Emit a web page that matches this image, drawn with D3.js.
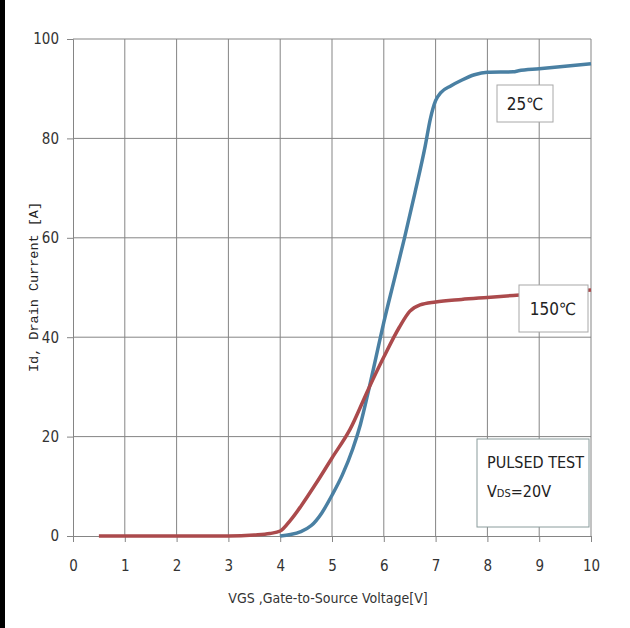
<!DOCTYPE html>
<html>
<head>
<meta charset="utf-8">
<script src="https://cdn.jsdelivr.net/npm/d3@7"></script>
<style>
  body { margin: 0; background: #fff; }
  svg { display: block; }
</style>
</head>
<body>
<div id="chart"></div>
<script>
// ==================================================
// DATA
// ==================================================

// Axis Ticks
var xTicks = [0, 1, 2, 3, 4, 5, 6, 7, 8, 9, 10];
var yTicks = [0, 20, 40, 60, 80, 100];

// 25C Curve (VGS, Id)
var vgs25 = [4.0, 4.2, 4.4, 4.6, 4.8, 5.0, 5.2, 5.4, 5.55, 5.7, 5.85, 6.0, 6.2, 6.4, 6.6, 6.8, 6.9, 7.0, 7.1, 7.3, 7.5, 7.75, 8.0, 8.5, 8.6, 9.0, 9.5, 10.0];
var id25  = [0, 0.3, 0.9, 2.1, 4.6, 8.2, 12.3, 17.5, 22.5, 29, 36, 43, 51.5, 60, 69, 78.5, 84, 87.6, 89.2, 90.6, 91.7, 92.8, 93.3, 93.4, 93.6, 94.0, 94.5, 95.0];

// 150C Curve (VGS, Id)
var vgs150 = [0.5, 3.0, 3.5, 3.8, 4.0, 4.2, 4.4, 4.7, 5.0, 5.35, 5.7, 6.0, 6.3, 6.5, 6.7, 7.0, 7.5, 8.0, 8.5, 9.0, 10.0];
var id150  = [0, 0, 0.2, 0.5, 1.0, 3.2, 6.0, 10.7, 15.7, 21.5, 29.5, 36, 42, 45.2, 46.5, 47.1, 47.6, 48.0, 48.4, 48.8, 49.5];

var seriesNames  = ["25℃", "150℃"];
var seriesColors = ["#4a80a3", "#ab4a4c"];

// ==================================================
// CANVAS
// ==================================================

var W = 630, H = 628;
var margin = { top: 39, left: 73, right: 39, bottom: 92 };
var width  = W - margin.left - margin.right;
var height = H - margin.top - margin.bottom;

var narrow = "'Liberation Sans Narrow', 'DejaVu Sans Condensed', sans-serif";

var svg = d3.select("#chart")
	.append("svg")
		.attr("width", W)
		.attr("height", H);

// Left black border
svg.append("rect")
	.attr("x", 0).attr("y", 0)
	.attr("width", 5).attr("height", H)
	.attr("fill", "#000");

var visual = svg.append("g")
	.attr("transform", "translate(" + margin.left + "," + margin.top + ")");

// Scales
var x = d3.scaleLinear().domain([0, 10]).range([0, width]);
var y = d3.scaleLinear().domain([0, 100]).range([height, 0]);

// ==================================================
// GRID + AXES
// ==================================================

visual.append("g")
	.selectAll("line")
	.data(xTicks.slice(1))
	.enter().append("line")
		.attr("x1", function(d) { return x(d); })
		.attr("x2", function(d) { return x(d); })
		.attr("y1", 0).attr("y2", height)
		.attr("stroke", "#858585");

visual.append("g")
	.selectAll("line")
	.data(yTicks.slice(1))
	.enter().append("line")
		.attr("y1", function(d) { return y(d); })
		.attr("y2", function(d) { return y(d); })
		.attr("x1", 0).attr("x2", width)
		.attr("stroke", "#858585");

var xAxis = visual.append("g")
	.attr("transform", "translate(0," + height + ")")
	.call(d3.axisBottom(x).tickValues(xTicks).tickSize(6).tickPadding(18).tickFormat(d3.format("d")));

var yAxis = visual.append("g")
	.call(d3.axisLeft(y).tickValues(yTicks).tickSize(6).tickPadding(8).tickFormat(d3.format("d")));

[xAxis, yAxis].forEach(function(ax) {
	ax.select(".domain").attr("stroke", "#858585");
	ax.selectAll(".tick line").attr("stroke", "#858585");
	ax.selectAll(".tick text")
		.attr("fill", "#333")
		.attr("font-family", narrow)
		.attr("font-size", "15px");
});

// Axis Titles
svg.append("text")
	.attr("x", 328)
	.attr("y", 603)
	.attr("text-anchor", "middle")
	.attr("font-family", narrow)
	.attr("font-size", "14px")
	.attr("fill", "#333")
	.text("VGS ,Gate-to-Source Voltage[V]");

svg.append("text")
	.attr("transform", "translate(38,287) rotate(-90)")
	.attr("text-anchor", "middle")
	.attr("font-family", "'Liberation Mono', 'DejaVu Sans Mono', monospace")
	.attr("font-size", "13.5px")
	.attr("fill", "#222")
	.text("Id, Drain Current [A]");

// ==================================================
// CURVES
// ==================================================

var line = d3.line()
	.x(function(d) { return x(d[0]); })
	.y(function(d) { return y(d[1]); })
	.curve(d3.curveMonotoneX);

var series = [d3.zip(vgs25, id25), d3.zip(vgs150, id150)];

visual.selectAll(".curve")
	.data(series)
	.enter().append("path")
		.attr("class", "curve")
		.attr("d", line)
		.attr("fill", "none")
		.attr("stroke", function(d, i) { return seriesColors[i]; })
		.attr("stroke-width", 3.5)
		.attr("stroke-linejoin", "round");

// ==================================================
// LABEL BOXES
// ==================================================

function labelBox(bx, by, bw, bh, stroke) {
	svg.append("rect")
		.attr("x", bx).attr("y", by)
		.attr("width", bw).attr("height", bh)
		.attr("fill", "#fff")
		.attr("stroke", stroke);
}

labelBox(497, 85, 56, 37, "#a8a8a8");
svg.append("text")
	.attr("x", 525).attr("y", 110)
	.attr("text-anchor", "middle")
	.attr("font-family", narrow)
	.attr("font-size", "17px")
	.attr("fill", "#222")
	.text(seriesNames[0]);

labelBox(519, 285, 69, 47, "#a8a8a8");
svg.append("text")
	.attr("x", 553).attr("y", 315)
	.attr("text-anchor", "middle")
	.attr("font-family", narrow)
	.attr("font-size", "17px")
	.attr("fill", "#222")
	.text(seriesNames[1]);

labelBox(477, 439, 112, 88, "#8a9c9c");
svg.append("text")
	.attr("x", 487).attr("y", 468)
	.attr("font-family", narrow)
	.attr("font-size", "16px")
	.attr("fill", "#222")
	.text("PULSED TEST");

var vds = svg.append("text")
	.attr("x", 487).attr("y", 497)
	.attr("font-family", narrow)
	.attr("font-size", "16px")
	.attr("fill", "#222");
vds.append("tspan").text("V");
vds.append("tspan").attr("font-size", "11px").text("DS");
vds.append("tspan").text("=20V");
</script>
</body>
</html>
